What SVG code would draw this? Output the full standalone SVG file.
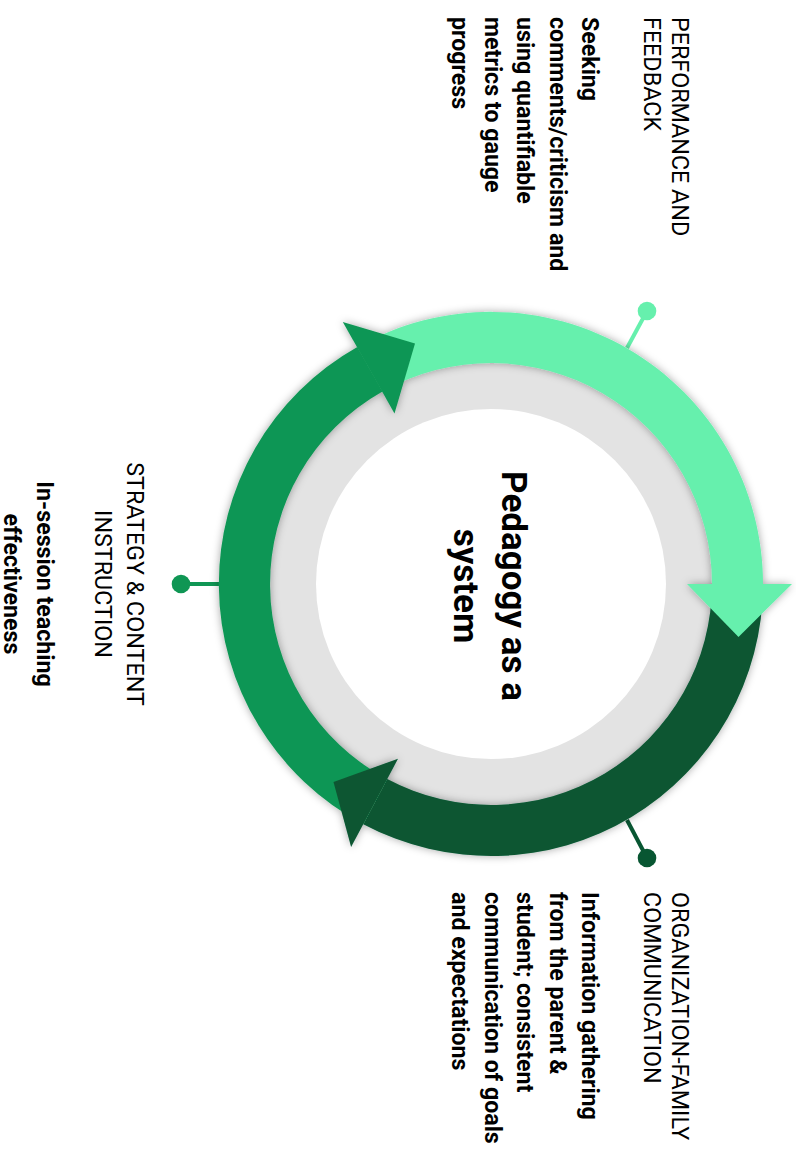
<svg xmlns="http://www.w3.org/2000/svg" width="796" height="1154" viewBox="0 0 796 1154">
<defs>
<filter id="sh" x="-20%" y="-20%" width="140%" height="140%">
<feDropShadow dx="0" dy="0" stdDeviation="4" flood-color="#000" flood-opacity="0.35"/>
</filter>
<style>
.t{font-family:Roboto,"Liberation Sans",sans-serif;font-size:23.3px;font-weight:400;fill:#000}
.b{font-family:Roboto,"Liberation Sans",sans-serif;font-size:23.2px;font-weight:700;fill:#000}
.c{font-family:Roboto,"Liberation Sans",sans-serif;font-size:35px;font-weight:700;fill:#000}
.lg{fill:#66F0AD}
.mg{fill:#0F9654}
.dg{fill:#085632}
</style>
</defs>
<rect width="796" height="1154" fill="#fff"/>
<g id="connectors">
<line x1="627" y1="348" x2="647" y2="311" stroke="#66F0AD" stroke-width="4"/>
<circle cx="647" cy="311" r="9.3" class="lg"/>
<line x1="627" y1="820" x2="647" y2="858" stroke="#085632" stroke-width="4"/>
<circle cx="647" cy="858" r="9.3" class="dg"/>
<line x1="221" y1="584" x2="181" y2="584" stroke="#0F9654" stroke-width="4"/>
<circle cx="181" cy="584" r="9.3" class="mg"/>
</g>
<g id="hub">
<circle cx="491" cy="584" r="224" fill="#E3E3E3"/>
<circle cx="491" cy="584" r="175" fill="#fff"/>
<text class="c" transform="translate(502,586) rotate(90)" text-anchor="middle">Pedagogy as a</text>
<text class="c" transform="translate(454,586) rotate(90)" text-anchor="middle">system</text>
</g>
<g id="cycle" filter="url(#sh)">
<path class="lg" d="M357.3 347 A272 272 0 0 1 763 584 L712 584 A221 221 0 0 0 382.5 391.5 Z"/>
<path class="dg" d="M763 584 A272 272 0 0 1 363.3 824.2 L387.25 779.1 A221 221 0 0 0 712 584 Z"/>
<path class="mg" d="M363.3 824.2 A272 272 0 0 1 357.3 347 L382.5 391.5 A221 221 0 0 0 387.25 779.1 Z"/>
<polygon class="lg" points="687,584 792,584 738.5,637"/>
<polygon class="mg" points="394.5,413.4 342.8,322 415,343.5"/>
<polygon class="dg" points="398,758.8 351.1,847.1 333.5,782"/>
</g>
<g id="node-performance">
<text class="t" transform="translate(672,17) rotate(90)"><tspan x="0" y="0">PERFORMANCE AND</tspan><tspan x="0" y="28">FEEDBACK</tspan></text>
<text class="b" transform="translate(582,17) rotate(90)"><tspan x="0" y="0">Seeking</tspan><tspan x="0" y="32.5">comments/criticism and</tspan><tspan x="0" y="65">using quantifiable</tspan><tspan x="0" y="97.5">metrics to gauge</tspan><tspan x="0" y="130">progress</tspan></text>
</g>
<g id="node-organization">
<text class="t" transform="translate(672,892) rotate(90)"><tspan x="0" y="0">ORGANIZATION-FAMILY</tspan><tspan x="0" y="28">COMMUNICATION</tspan></text>
<text class="b" transform="translate(582,892) rotate(90)"><tspan x="0" y="0">Information gathering</tspan><tspan x="0" y="32.5">from the parent &amp;</tspan><tspan x="0" y="65">student; consistent</tspan><tspan x="0" y="97.5">communication of goals</tspan><tspan x="0" y="130">and expectations</tspan></text>
</g>
<g id="node-strategy">
<text class="t" transform="translate(127,584) rotate(90)" text-anchor="middle"><tspan x="0" y="0">STRATEGY &amp; CONTENT</tspan><tspan x="0" y="32">INSTRUCTION</tspan></text>
<text class="b" transform="translate(37,584) rotate(90)" text-anchor="middle"><tspan x="0" y="0">In-session teaching</tspan><tspan x="0" y="33">effectiveness</tspan></text>
</g>
</svg>
